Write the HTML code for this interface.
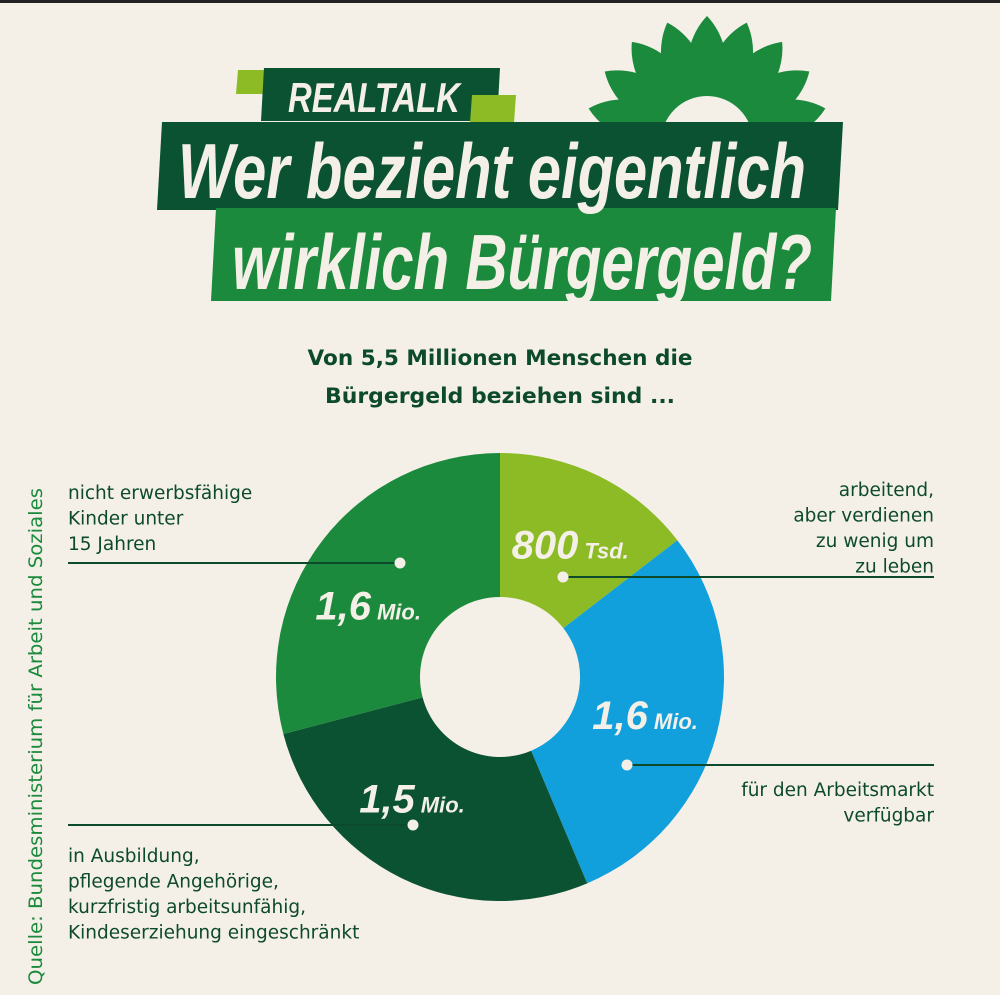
<!DOCTYPE html>
<html><head><meta charset="utf-8"><style>
html,body{margin:0;padding:0;background:#f4f0e8;}
svg{display:block;}
.cond{font-family:"Liberation Sans Narrow","Liberation Sans",sans-serif;font-weight:bold;font-style:italic;}
.lab{font-family:"DejaVu Sans","Liberation Sans",sans-serif;font-size:18.5px;fill:#0d4a2c;}
</style></head><body>
<svg id="chart" width="1000" height="995" viewBox="0 0 1000 995">
<rect x="0" y="0" width="1000" height="995" fill="#f4f0e8"/>
<rect x="0" y="0" width="1000" height="3" fill="#222"/>
<g id="sunflower"></g>
<polygon points="238,70 292,70 290,94 236,94" fill="#8dbb25"/>
<polygon points="264,68 500,68 497,121 261,121" fill="#0a5232"/>
<polygon points="472,95 516,95 514,123 470,123" fill="#8dbb25"/>
<text x="288" y="112" class="cond" font-size="42" fill="#f4f0e8" textLength="172" lengthAdjust="spacingAndGlyphs">REALTALK</text>
<polygon points="162,122 843,122 838,210 157,210" fill="#0a5232"/>
<polygon points="216,208 836,208 831,301 211,301" fill="#1b8a3c"/>
<text x="178" y="198" class="cond" font-size="78" fill="#f4f0e8" textLength="628" lengthAdjust="spacingAndGlyphs">Wer bezieht eigentlich</text>
<text x="232" y="289" class="cond" font-size="78" fill="#f4f0e8" textLength="580" lengthAdjust="spacingAndGlyphs">wirklich Bürgergeld?</text>
<text x="500" y="365" text-anchor="middle" font-family="DejaVu Sans,Liberation Sans,sans-serif" font-weight="bold" font-size="21" fill="#0d4a2c" textLength="385" lengthAdjust="spacingAndGlyphs">Von 5,5 Millionen Menschen die</text>
<text x="500" y="403" text-anchor="middle" font-family="DejaVu Sans,Liberation Sans,sans-serif" font-weight="bold" font-size="21" fill="#0d4a2c" textLength="350" lengthAdjust="spacingAndGlyphs">Bürgergeld beziehen sind ...</text>
<g id="donut"></g>
<g id="annot"></g>
<text transform="translate(42,985) rotate(-90)" font-family="DejaVu Sans,Liberation Sans,sans-serif" font-size="19" fill="#1b8a3c" textLength="497" lengthAdjust="spacingAndGlyphs">Quelle: Bundesministerium für Arbeit und Soziales</text>
</svg>
<script>
const categories = ["arbeitend", "verfuegbar", "ausbildung", "kinder"];
const values = [0.8, 1.6, 1.5, 1.6];
const valueLabels = ["800", "1,6", "1,5", "1,6"];
const unitLabels = ["Tsd.", "Mio.", "Mio.", "Mio."];
const colors = ["#8dbb25", "#12a0dc", "#0a5232", "#1b8a3c"];

const NS = "http://www.w3.org/2000/svg";
const cx = 500, cy = 677, R = 224, r = 80;
const labelAngleOffset = [0.03, 0, 0.17, -0.16];
function mk(tag, attrs, parent){const e=document.createElementNS(NS,tag);for(const k in attrs)e.setAttribute(k,attrs[k]);parent.appendChild(e);return e;}
function pt(a, rad){return [cx+rad*Math.sin(a), cy-rad*Math.cos(a)];}
const total = values.reduce((s,v)=>s+v,0);
const donut = document.getElementById("donut");
let a0 = 0;
values.forEach((v,i)=>{
  const a1 = a0 + v/total*2*Math.PI;
  const large = (a1-a0) > Math.PI ? 1 : 0;
  const [x0,y0]=pt(a0,R),[x1,y1]=pt(a1,R),[x2,y2]=pt(a1,r),[x3,y3]=pt(a0,r);
  const p = mk("path",{d:`M${x0},${y0} A${R},${R} 0 ${large} 1 ${x1},${y1} L${x2},${y2} A${r},${r} 0 ${large} 0 ${x3},${y3} Z`,fill:colors[i]},donut);
  
  
  const am=(a0+a1)/2 + labelAngleOffset[i];
  const [lx,ly]=pt(am,150);
  const t = mk("text",{x:lx,y:ly+14,"text-anchor":"middle",class:"cond",fill:"#f4f0e8","font-size":40},donut);
  
  
  const tn = mk("tspan",{},t);
  tn.textContent = valueLabels[i];
  const ts = mk("tspan",{"font-size":22,dx:6},t);
  ts.textContent = unitLabels[i];
  a0 = a1;
});

// sunflower logo
const sf = document.getElementById("sunflower");
const scx=707, scy=138;
for(let k=0;k<11;k++){
  const ang = -95 + k*19;
  const e = mk("path",{d:`M${scx-20},${scy-40} Q${scx-26},${scy-95} ${scx},${scy-122} Q${scx+26},${scy-95} ${scx+20},${scy-40} Z`,fill:"#1b8a3c",transform:`rotate(${ang} ${scx} ${scy})`},sf);
  
  
}
const c = mk("circle",{cx:scx,cy:scy+4,r:46,fill:"#f4f0e8"},sf);



// annotations
const an = document.getElementById("annot");
function line(x1,y,x2,name){
  const l=mk("line",{x1:x1,y1:y,x2:x2,y2:y,stroke:"#0d4a2c","stroke-width":2},an);
  
  
}
function dot(x,y,name){
  const d=mk("circle",{cx:x,cy:y,r:5.5,fill:"#f4f0e8"},an);
  
  
}
function txt(lines,x,y0,anchor,name){
  lines.forEach((s,i)=>{
    const t=mk("text",{x:x,y:y0+i*25.5,"text-anchor":anchor,class:"lab"},an);
    
    
    t.textContent=s;
  });
}
line(68,563,400,"kinder"); dot(400,563,"kinder");
txt(["nicht erwerbsfähige","Kinder unter","15 Jahren"],68,499,"start","kinder");
line(68,825,413,"ausbildung"); dot(413,825,"ausbildung");
txt(["in Ausbildung,","pflegende Angehörige,","kurzfristig arbeitsunfähig,","Kindeserziehung eingeschränkt"],68,862,"start","ausbildung");
line(563,577,934,"arbeitend"); dot(563,577,"arbeitend");
txt(["arbeitend,","aber verdienen","zu wenig um","zu leben"],934,496,"end","arbeitend");
line(627,765,934,"verfuegbar"); dot(627,765,"verfuegbar");
txt(["für den Arbeitsmarkt","verfügbar"],934,796,"end","verfuegbar");
</script>
</body></html>
